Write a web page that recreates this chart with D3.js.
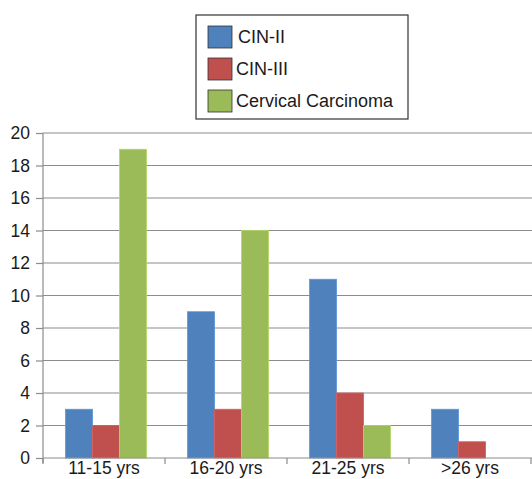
<!DOCTYPE html>
<html><head><meta charset="utf-8">
<script src="https://cdn.jsdelivr.net/npm/d3@7"></script>
<style>body{margin:0;background:#fff;} svg{display:block;font-family:"Liberation Sans",Arial,sans-serif;}</style>
</head><body>
<svg id="c" width="532" height="479"></svg>
<script>
const categories = ["11-15 yrs","16-20 yrs","21-25 yrs",">26 yrs"];
const seriesNames = ["CIN-II","CIN-III","Cervical Carcinoma"];
const cin2 = [3, 9, 11, 3];
const cin3 = [2, 3, 4, 1];
const carcinoma = [19, 14, 2, 0];
const colors = ["#4F81BD","#C0504D","#9BBB59"];
const yTicks = [0,2,4,6,8,10,12,14,16,18,20];

(function(){
const seriesVals = [cin2, cin3, carcinoma];
const svg = d3.select("#c");
const pLeft = 43, pRight = 531, pTop = 133, pBottom = 458;
const x = d3.scaleBand().domain(categories).range([pLeft, pRight]).paddingInner(0).paddingOuter(0);
const x1 = d3.scaleBand().domain(seriesNames).range([0, x.bandwidth()]).paddingInner(0).paddingOuter(0.76).align(0.55);
const y = d3.scaleLinear().domain([0, 20]).range([pBottom, pTop]);

// gridlines
svg.append("g").selectAll("line").data(yTicks.filter(d=>d>0)).join("line")
  .attr("x1", pLeft).attr("x2", pRight+1).attr("y1", d=>y(d)).attr("y2", d=>y(d))
  .attr("stroke", "#8c8c8c").attr("stroke-width", 1.2);

// y axis
const yAxis = svg.append("g").attr("transform", `translate(${pLeft},0)`)
  .call(d3.axisLeft(y).tickValues(yTicks).tickSize(7).tickPadding(6));
yAxis.select(".domain").attr("stroke", "#8c8c8c").attr("stroke-width", 1.2).attr("d", `M0,${pTop}V${pBottom+5}`);
yAxis.selectAll(".tick line").attr("stroke", "#8c8c8c").attr("stroke-width", 1.2);
yAxis.selectAll("text").attr("font-size", 17.5).attr("fill", "#1a1a1a").attr("font-family", "Liberation Sans, Arial, sans-serif");

// bars
const g = svg.append("g");
categories.forEach((c, i) => {
  seriesNames.forEach((s, j) => {
    const v = seriesVals[j][i];
    if (v <= 0) return;
    g.append("rect")
      .attr("x", x(c) + x1(s)).attr("width", x1.bandwidth())
      .attr("y", y(v)).attr("height", y(0) - y(v))
      .attr("fill", colors[j])
      .attr("stroke", d3.color(colors[j]).brighter(0.4)).attr("stroke-width", 0.8);
  });
});

// x axis
const xAxis = svg.append("g").attr("transform", `translate(0,${pBottom})`)
  .call(d3.axisBottom(x).tickSize(0).tickPadding(0));
xAxis.select(".domain").attr("stroke", "#8c8c8c").attr("stroke-width", 1.2).attr("d", `M${pLeft},0H${pRight+1}`);
xAxis.selectAll("text").attr("font-size", 17.5).attr("fill", "#1a1a1a").attr("y", 16).attr("dy", null).attr("font-family", "Liberation Sans, Arial, sans-serif");
const bounds = categories.map(c => x(c)).concat([x(categories[categories.length-1]) + x.bandwidth()]);
svg.append("g").selectAll("line").data(bounds).join("line")
  .attr("x1", d=>d).attr("x2", d=>d).attr("y1", pBottom).attr("y2", pBottom+6)
  .attr("stroke", "#8c8c8c").attr("stroke-width", 1.2);

// legend
const lg = svg.append("g");
lg.append("rect").attr("x", 196).attr("y", 15).attr("width", 212).attr("height", 104)
  .attr("fill", "#fff").attr("stroke", "#333").attr("stroke-width", 1.2);
seriesNames.forEach((s, j) => {
  const yy = 26 + j * 32;
  lg.append("rect").attr("x", 208).attr("y", yy).attr("width", 24).attr("height", 22)
    .attr("fill", colors[j]).attr("stroke", "#333").attr("stroke-width", 0.8);
  lg.append("text").attr("x", j === 0 ? 238 : 236).attr("y", yy + 17).text(s)
    .attr("font-size", 18).attr("fill", "#1a1a1a");
});
})();
</script>
</body></html>
